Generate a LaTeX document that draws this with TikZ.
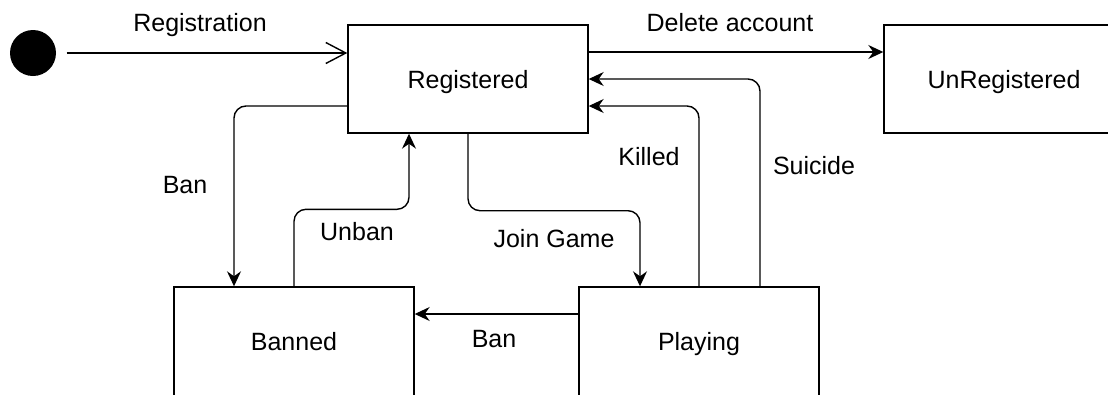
\documentclass[tikz,border=0pt]{standalone}
\usepackage{fontspec}
\setmainfont{Liberation Sans}
\usetikzlibrary{arrows.meta}
\usetikzlibrary{math}

\tikzset{
  state/.style={draw, minimum width=240pt, minimum height=108pt,
    text height=18pt, text depth=0pt, inner sep=0pt},
  lowstate/.style={state, minimum height=112pt, text depth=4pt},
  trans/.style={-{Stealth[length=15pt,width=14pt,inset=5pt]}, rounded corners=12pt},
  lbl/.style={anchor=base, inner sep=0pt},
}

\begin{document}
\begin{tikzpicture}[x=1pt,y=-1pt,line width=1.4pt,font=\fontsize{25}{30}\selectfont]

  \tikzmath{
    \offset = 27;  % offset of parallel transitions from box centre
    \side   = 60;  % offset of transitions on box tops
    \runy   = 77;  % height of the horizontal run between the rows
  }

  \useasboundingbox (0,0) rectangle (1108,394);
  \clip (0,0) rectangle (1108,394);

  % states
  \node[circle, fill, minimum size=46pt, inner sep=0pt] (init) at (33,53) {};
  \node[state] (registered)   at (468,79)   {Registered};
  \node[state] (unregistered) at (1004,79)  {UnRegistered};
  \node[lowstate] (banned)    at (294,343)  {Banned};
  \node[lowstate] (playing)   at (699,343)  {Playing};

  % initial transition
  \draw[-{Straight Barb[length=20pt,width=21pt]}, shorten <=10pt]
    (init) -- ([yshift=26pt]registered.west);
  \node[lbl] (lregistration) at (200,31) {Registration};

  % leaving the game
  \draw[trans] ([yshift=\offset pt]registered.east) -- ([yshift=\offset pt]unregistered.west);
  \node[lbl] (ldelete) at (730,31) {Delete account};

  % ban and unban
  \draw[trans] ([yshift=-\offset pt]registered.west) -| ([xshift=-\side pt]banned.north);
  \node[lbl] (lban) at (185,193) {Ban};

  \draw[trans] (banned.north) -- ++(0,-\runy) -| ([xshift=-59pt]registered.south);
  \node[lbl] (lunban) at (357,240) {Unban};

  % joining a game
  \draw[trans] (registered.south) -- ++(0,\runy) -| ([xshift=-59pt]playing.north);
  \node[lbl] (ljoin) at (554,247) {Join Game};

  % back from the game
  \draw[trans] (playing.north) |- ([yshift=-\offset pt]registered.east);
  \node[lbl] (lkilled) at (649,165) {Killed};

  \draw[trans] ([xshift=61pt]playing.north) |- (registered.east);
  \node[lbl] (lsuicide) at (814,174) {Suicide};

  \draw[trans] ([yshift=29pt]playing.west) -- ([yshift=29pt]banned.east);
  \node[lbl] (lbanned) at (494,347) {Ban};

\end{tikzpicture}
\end{document}
